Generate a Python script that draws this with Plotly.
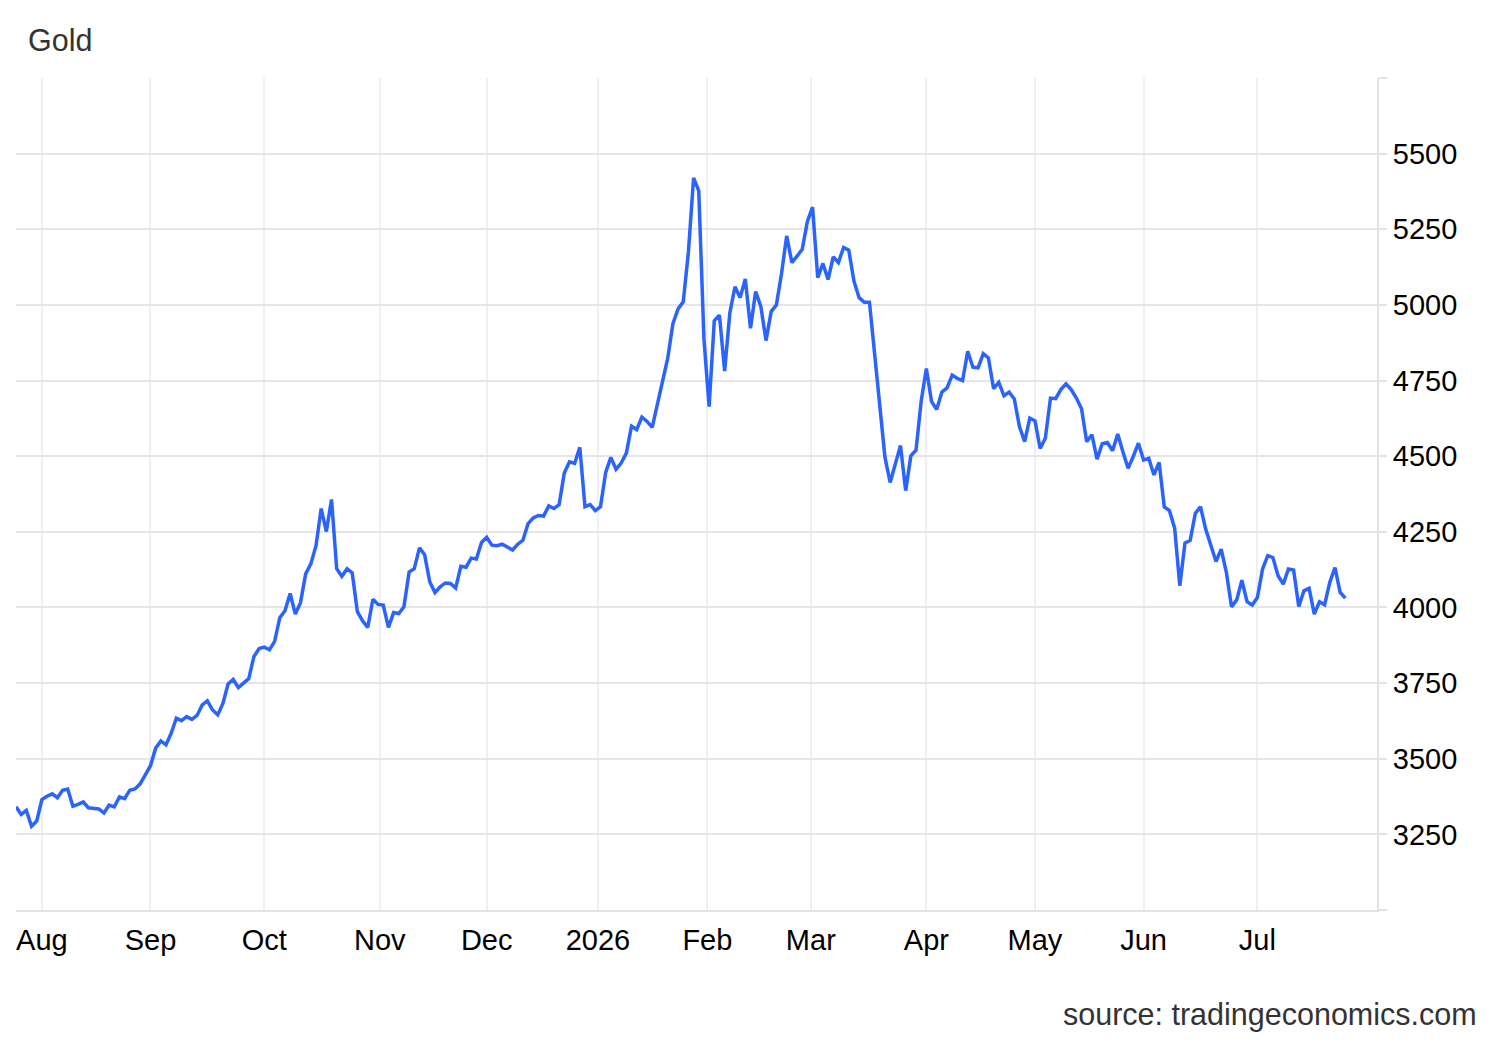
import pandas as pd
import plotly.graph_objects as go

# ---- data ----
start_date = "2025-07-25"
holidays = ["2025-12-25", "2026-01-01", "2026-04-03"]

gold = [
    3341, 3316, 3329, 3277, 3294, 3365, 3376, 3384, 3371, 3396,
    3400, 3343, 3349, 3357, 3338, 3337, 3334, 3321, 3347, 3341,
    3374, 3368, 3396, 3400, 3417, 3447, 3477, 3535, 3559, 3546,
    3584, 3634, 3626, 3639, 3630, 3643, 3678, 3691, 3661, 3645,
    3683, 3747, 3762, 3735, 3749, 3765, 3838, 3864, 3869, 3860,
    3888, 3966, 3989, 4046, 3978, 4016, 4111, 4144, 4204, 4327,
    4251, 4357, 4128, 4103, 4128, 4114, 3986, 3956, 3934, 4027,
    4010, 4008, 3934, 3983, 3980, 4002, 4117, 4128, 4197, 4174,
    4084, 4049, 4068, 4081, 4079, 4064, 4136, 4133, 4163, 4160,
    4215, 4232, 4206, 4204, 4209, 4198, 4190, 4209, 4222, 4277,
    4296, 4304, 4302, 4336, 4327, 4340, 4444, 4481, 4476, 4529,
    4333, 4340, 4320, 4333, 4446, 4496, 4457, 4477, 4510, 4599,
    4588, 4629, 4615, 4595, 4673, 4755, 4824, 4938, 4987, 5010,
    5175, 5420, 5377, 4888, 4664, 4948, 4966, 4781, 4973, 5060,
    5024, 5086, 4923, 5044, 4995, 4882, 4978, 5000, 5104, 5228,
    5140, 5161, 5184, 5276, 5323, 5090, 5137, 5084, 5159, 5140,
    5190, 5181, 5079, 5024, 5009, 5009, 4830, 4660, 4496, 4413,
    4479, 4535, 4386, 4501, 4520, 4682, 4790, 4681, 4654, 4712,
    4726, 4768, 4757, 4750, 4847, 4794, 4792, 4839, 4825, 4723,
    4744, 4700, 4712, 4689, 4598, 4548, 4626, 4617, 4526, 4559,
    4692, 4690, 4720, 4739, 4720, 4692, 4657, 4548, 4571, 4490,
    4541, 4545, 4518, 4573, 4515, 4460, 4499, 4543, 4487, 4493,
    4438, 4479, 4332, 4320, 4262, 4072, 4213, 4222, 4311, 4333,
    4259, 4209, 4152, 4193, 4116, 4002, 4025, 4090, 4019, 4008,
    4033, 4127, 4171, 4165, 4105, 4077, 4127, 4124, 4003, 4055,
    4063, 3978, 4019, 4009, 4083, 4132, 4050, 4031,
]

# month boundaries; a month starting on a closed day sits between the
# surrounding trading days (as on an ordinal time axis)
month_ticks = ["2025-08-01", "2025-09-01", "2025-10-01", "2025-10-31 08:00",
               "2025-12-01", "2025-12-31 12:00", "2026-01-30 16:00", "2026-02-27 16:00",
               "2026-04-01", "2026-05-01", "2026-06-01", "2026-07-01"]
month_labels = ["Aug", "Sep", "Oct", "Nov", "Dec", "2026", "Feb", "Mar",
                "Apr", "May", "Jun", "Jul"]

y_ticks = [3000, 3250, 3500, 3750, 4000, 4250, 4500, 4750, 5000, 5250, 5500, 5750]
y_labels = ["", "3250", "3500", "3750", "4000", "4250", "4500", "4750",
            "5000", "5250", "5500", ""]

# trading days (weekdays without the market holidays)
bdays = pd.bdate_range(start=start_date, periods=len(gold) + len(holidays) + 5)
bdays = bdays[~bdays.isin(pd.to_datetime(holidays))][: len(gold)]

FONT = "Liberation Sans, Arial, Helvetica, sans-serif"

fig = go.Figure()
fig.add_trace(go.Scatter(
    x=bdays, y=gold, mode="lines",
    line=dict(color="#2b63ff", width=3.5),
    hoverinfo="x+y", showlegend=False,
))

fig.update_layout(
    width=1500, height=1040,
    margin=dict(l=16, r=123, t=78, b=130),
    paper_bgcolor="white", plot_bgcolor="white",
    font=dict(family=FONT, size=29, color="#000000"),
    title=dict(text="Gold", x=28 / 1500, xref="container", xanchor="left",
               y=1 - 40 / 1040, yref="container", yanchor="middle",
               font=dict(family=FONT, size=30.5, color="#333333")),
    annotations=[dict(text="source: tradingeconomics.com", xref="paper", yref="paper",
                      x=(1479 - 16) / 1361, y=(910 - 1014) / 832,
                      xanchor="right", yanchor="middle", showarrow=False,
                      font=dict(family=FONT, size=30.5, color="#333333"))],
)

fig.update_xaxes(
    type="date",
    range=["2025-07-25", "2026-08-03 03:00"],
    rangebreaks=[dict(bounds=["sat", "mon"]), dict(values=holidays)],
    tickmode="array", tickvals=month_ticks, ticktext=month_labels,
    showgrid=True, gridcolor="#eef0f4", gridwidth=2,
    showline=True, linecolor="#e3e3e3", linewidth=2,
    ticks="", ticklabelstandoff=3, tickfont=dict(size=29, color="#000000"),
    zeroline=False, fixedrange=True,
)

fig.update_yaxes(
    side="right",
    range=[3000, 5750],
    tickmode="array", tickvals=y_ticks, ticktext=y_labels,
    showgrid=True, gridcolor="#e6e6e6", gridwidth=2,
    showline=True, linecolor="#e3e3e3", linewidth=2,
    ticks="outside", ticklen=8, tickcolor="#e3e3e3", tickwidth=2,
    tickfont=dict(size=29, color="#000000"),
    zeroline=False, fixedrange=True,
)

fig.write_html("out.html")
